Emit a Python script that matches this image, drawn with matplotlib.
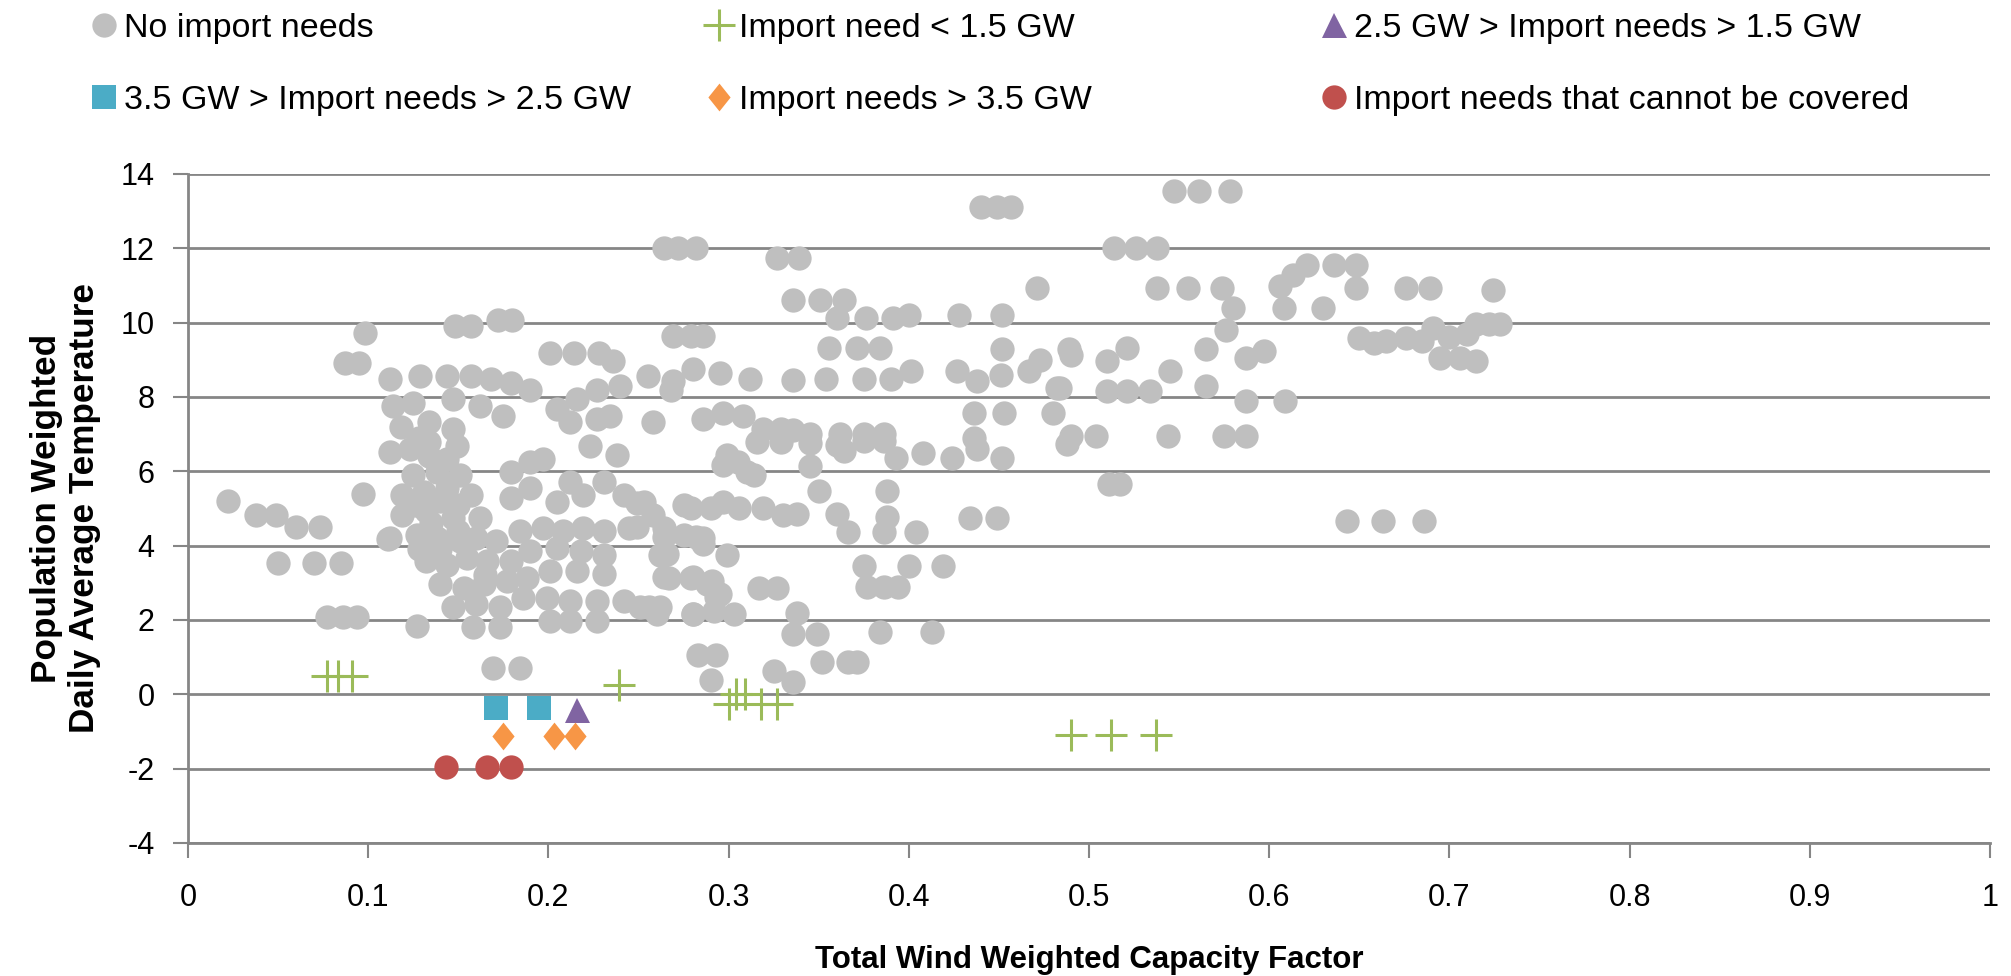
import matplotlib.pyplot as plt

plt.rcParams['font.family'] = ['Liberation Sans', 'DejaVu Sans']
plt.rcParams['axes.unicode_minus'] = False

# series data (capacity factor, temperature)
no_import_x = [
    0.022, 0.038, 0.049, 0.060, 0.073, 0.050, 0.070, 0.085, 0.077, 0.086, 0.094, 0.097, 0.111, 0.127,
    0.098, 0.087, 0.095, 0.148, 0.157, 0.172, 0.180, 0.201, 0.214, 0.228, 0.236, 0.169, 0.184,
    0.112, 0.129, 0.144, 0.157, 0.168, 0.179, 0.190, 0.114, 0.125, 0.147, 0.162, 0.175,
    0.134, 0.147, 0.134, 0.149, 0.112, 0.123, 0.134, 0.144, 0.125, 0.138, 0.151,
    0.119, 0.131, 0.144, 0.157, 0.119, 0.132, 0.147, 0.162, 0.112, 0.127, 0.138, 0.151,
    0.132, 0.144, 0.155, 0.166, 0.140, 0.153, 0.164, 0.177, 0.147, 0.160, 0.173, 0.158, 0.173,
    0.179, 0.190, 0.197, 0.190, 0.179, 0.212, 0.231, 0.219, 0.205, 0.242, 0.253, 0.258,
    0.184, 0.197, 0.208, 0.219, 0.231, 0.245, 0.190, 0.205, 0.218, 0.231, 0.171, 0.179,
    0.188, 0.201, 0.216, 0.231, 0.199, 0.212, 0.227, 0.242, 0.256, 0.201, 0.212, 0.227, 0.260,
    0.264, 0.275, 0.286, 0.299, 0.262, 0.267, 0.279, 0.288, 0.295, 0.280, 0.292, 0.303,
    0.279, 0.290, 0.297, 0.305, 0.314, 0.319, 0.330, 0.299, 0.317, 0.327, 0.283, 0.293, 0.290, 0.325,
    0.205, 0.216, 0.227, 0.240, 0.255, 0.268, 0.280, 0.295, 0.312, 0.212, 0.227, 0.234, 0.258,
    0.223, 0.238, 0.286, 0.297, 0.308, 0.319, 0.329, 0.297, 0.310, 0.275,
    0.118, 0.128, 0.140, 0.150, 0.126, 0.135, 0.128, 0.140, 0.150, 0.160, 0.165, 0.186,
    0.440, 0.449, 0.457, 0.264, 0.272, 0.282, 0.327, 0.339, 0.471,
    0.336, 0.351, 0.364, 0.360, 0.376, 0.391, 0.400, 0.428, 0.452, 0.269, 0.279, 0.286,
    0.356, 0.371, 0.384, 0.452, 0.473, 0.489, 0.269, 0.336, 0.354, 0.375, 0.390, 0.401,
    0.427, 0.438, 0.451, 0.467, 0.482, 0.345, 0.336, 0.362, 0.375, 0.386,
    0.436, 0.453, 0.480, 0.436, 0.364, 0.375, 0.386, 0.393, 0.408, 0.424, 0.438, 0.452, 0.488,
    0.345, 0.350, 0.360, 0.366, 0.388, 0.388, 0.386, 0.404, 0.434, 0.449,
    0.375, 0.400, 0.419, 0.377, 0.386, 0.394, 0.338, 0.336, 0.349, 0.384, 0.413,
    0.336, 0.352, 0.366, 0.371, 0.306, 0.338, 0.249, 0.249, 0.264, 0.282, 0.266, 0.286,
    0.264, 0.280, 0.291, 0.251, 0.262, 0.280, 0.293, 0.316, 0.329, 0.345, 0.360,
    0.547, 0.561, 0.578, 0.514, 0.526, 0.538, 0.538, 0.555, 0.574, 0.580, 0.576,
    0.606, 0.613, 0.621, 0.636, 0.648, 0.648, 0.608, 0.630, 0.676, 0.689, 0.724, 0.722, 0.710,
    0.650, 0.665, 0.676, 0.691, 0.695, 0.715, 0.706, 0.715, 0.728, 0.658, 0.685, 0.700,
    0.490, 0.510, 0.521, 0.545, 0.565, 0.587, 0.597, 0.510, 0.521, 0.534, 0.484, 0.565, 0.587, 0.609,
    0.490, 0.504, 0.544, 0.575, 0.587, 0.511, 0.517, 0.643, 0.663, 0.686,
]
no_import_y = [
    5.20, 4.83, 4.83, 4.49, 4.49, 3.53, 3.53, 3.53, 2.07, 2.07, 2.07, 5.39, 4.18, 1.85,
    9.72, 8.92, 8.92, 9.90, 9.90, 10.06, 10.06, 9.19, 9.19, 9.19, 8.96, 0.71, 0.71,
    8.47, 8.56, 8.56, 8.56, 8.47, 8.38, 8.20, 7.76, 7.85, 7.94, 7.76, 7.49,
    7.32, 7.14, 6.78, 6.69, 6.51, 6.60, 6.42, 6.33, 5.89, 5.98, 5.89,
    5.36, 5.45, 5.54, 5.36, 4.83, 4.92, 4.74, 4.74, 4.20, 4.29, 4.20, 4.12,
    3.58, 3.49, 3.67, 3.58, 2.96, 2.87, 2.96, 3.05, 2.34, 2.43, 2.34, 1.80, 1.80,
    5.98, 6.25, 6.34, 5.54, 5.27, 5.72, 5.72, 5.36, 5.18, 5.36, 5.18, 4.83,
    4.38, 4.47, 4.38, 4.47, 4.38, 4.47, 3.85, 3.94, 3.85, 3.76, 4.12, 3.58,
    3.14, 3.31, 3.31, 3.23, 2.60, 2.51, 2.51, 2.51, 2.34, 1.98, 1.98, 1.98, 2.16,
    4.47, 4.29, 4.20, 3.76, 3.76, 3.14, 3.14, 2.96, 2.69, 2.16, 2.25, 2.16,
    5.00, 5.00, 5.18, 6.25, 5.89, 5.00, 4.83, 6.43, 2.87, 2.87, 1.05, 1.05, 0.38, 0.64,
    7.67, 7.94, 8.20, 8.29, 8.56, 8.20, 8.74, 8.65, 8.47, 7.32, 7.41, 7.49, 7.32,
    6.69, 6.43, 7.41, 7.58, 7.49, 7.14, 7.14, 6.16, 5.98, 5.09,
    7.20, 6.90, 5.20, 5.10, 5.10, 4.60, 3.90, 3.90, 4.40, 4.20, 3.20, 2.60,
    13.10, 13.10, 13.10, 12.00, 12.00, 12.00, 11.74, 11.74, 10.93,
    10.62, 10.62, 10.62, 10.13, 10.13, 10.13, 10.20, 10.20, 10.20, 9.63, 9.63, 9.63,
    9.32, 9.32, 9.32, 9.28, 9.00, 9.30, 8.43, 8.45, 8.47, 8.47, 8.47, 8.70,
    8.70, 8.43, 8.60, 8.70, 8.24, 7.00, 7.10, 7.00, 7.00, 7.00,
    7.58, 7.58, 7.58, 6.90, 6.55, 6.82, 6.82, 6.37, 6.50, 6.37, 6.60, 6.37, 6.73,
    6.15, 5.47, 4.85, 4.36, 5.47, 4.76, 4.36, 4.36, 4.74, 4.74,
    3.46, 3.46, 3.46, 2.88, 2.88, 2.88, 2.18, 1.63, 1.63, 1.67, 1.67,
    0.33, 0.87, 0.87, 0.87, 5.00, 4.85, 5.16, 4.49, 4.22, 4.22, 3.78, 4.04,
    3.15, 3.15, 3.06, 2.34, 2.34, 2.17, 2.61, 6.80, 6.80, 6.75, 6.70,
    13.53, 13.53, 13.53, 12.00, 12.00, 12.00, 10.93, 10.93, 10.93, 10.40, 9.81,
    10.98, 11.29, 11.56, 11.56, 11.56, 10.93, 10.40, 10.40, 10.93, 10.93, 10.89, 9.95, 9.68,
    9.59, 9.50, 9.59, 9.86, 9.05, 8.96, 9.05, 9.95, 9.95, 9.45, 9.50, 9.60,
    9.14, 8.96, 9.32, 8.70, 9.28, 9.05, 9.23, 8.16, 8.16, 8.16, 8.25, 8.29, 7.89, 7.89,
    6.95, 6.95, 6.95, 6.95, 6.95, 5.65, 5.65, 4.67, 4.67, 4.67,
]

lt15_x = [0.077, 0.083, 0.091, 0.239, 0.300, 0.304, 0.309, 0.318, 0.327, 0.490, 0.512, 0.537]
lt15_y = [0.48, 0.48, 0.48, 0.24, -0.25, 0.0, 0.0, -0.25, -0.25, -1.1, -1.1, -1.1]

mid_x = [0.216]
mid_y = [-0.43]

high_x = [0.171, 0.195]
high_y = [-0.36, -0.36]

gt35_x = [0.175, 0.203, 0.215]
gt35_y = [-1.13, -1.13, -1.13]

uncovered_x = [0.143, 0.166, 0.179]
uncovered_y = [-1.95, -1.95, -1.95]

x_ticks = [0, 0.1, 0.2, 0.3, 0.4, 0.5, 0.6, 0.7, 0.8, 0.9, 1]
x_tick_labels = ['0', '0.1', '0.2', '0.3', '0.4', '0.5', '0.6', '0.7', '0.8', '0.9', '1']
y_ticks = [-4, -2, 0, 2, 4, 6, 8, 10, 12, 14]

grid_grey = '#868686'

fig = plt.figure(figsize=(20.11, 9.76), dpi=100)
ax = fig.add_axes([0.0935, 0.1363, 0.896, 0.6855])

ax.plot(no_import_x, no_import_y, 'o', color='#BFBFBF', ms=17.5, mew=0, label='No import needs')
ax.plot(lt15_x, lt15_y, '+', color='#9BBB59', ms=23, mew=2.2, label='Import need < 1.5 GW')
ax.plot(mid_x, mid_y, '^', color='#8064A2', ms=18, mew=0, label='2.5 GW > Import needs > 1.5 GW')
ax.plot(high_x, high_y, 's', color='#4BACC6', ms=17, mew=0, label='3.5 GW > Import needs > 2.5 GW')
diamond = [(0, 1), (0.8, 0), (0, -1), (-0.8, 0)]
ax.plot(gt35_x, gt35_y, marker=diamond, ls='none', color='#F79646', ms=20, mew=0,
        label='Import needs > 3.5 GW')
ax.plot(uncovered_x, uncovered_y, 'o', color='#C0504D', ms=17.5, mew=0,
        label='Import needs that cannot be covered')

ax.set_xlim(0, 1)
ax.set_ylim(-4, 14)
ax.set_xticks(x_ticks)
ax.set_xticklabels(x_tick_labels)
ax.set_yticks(y_ticks)
ax.yaxis.grid(True, color=grid_grey, lw=2)
ax.set_axisbelow(True)
for s in ['top', 'right']:
    ax.spines[s].set_visible(False)
for s in ['left', 'bottom']:
    ax.spines[s].set_color(grid_grey)
    ax.spines[s].set_linewidth(2)
ax.tick_params(axis='both', direction='out', length=11, width=1.5, color=grid_grey,
               labelsize=22, labelcolor='black')
ax.tick_params(axis='x', pad=18)
ax.tick_params(axis='y', pad=13)

ax.set_xlabel('Total Wind Weighted Capacity Factor', fontsize=22.5, fontweight='bold', va='center')
ax.xaxis.set_label_coords(0.5, -0.175)
ax.set_ylabel('Population Weighted\nDaily Average Temperature', fontsize=25.3, fontweight='bold',
              va='center', linespacing=1.2)
ax.yaxis.set_label_coords(-0.068, 0.5)

# legend: three columns, each with two rows
handles, labels = ax.get_legend_handles_labels()
cols = [(0, 3, 87), (1, 4, 702), (2, 5, 1317)]
for i, j, px in cols:
    fig.legend([handles[i], handles[j]], [labels[i], labels[j]], loc='upper left',
               bbox_to_anchor=(px / 2011, 1 - 13 / 976), bbox_transform=fig.transFigure,
               frameon=False, fontsize=24.5, borderpad=0, borderaxespad=0,
               handlelength=1.0, handletextpad=0.09, labelspacing=1.2, numpoints=1)

fig.savefig('out.png', dpi=100)
